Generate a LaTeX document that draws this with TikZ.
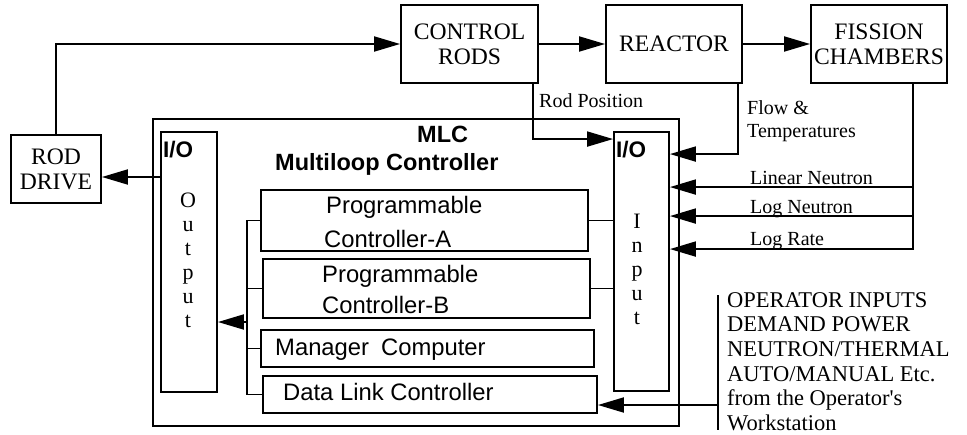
\documentclass[tikz,border=0pt]{standalone}
\usepackage{fontspec}
\setmainfont{Liberation Serif}
\setsansfont{Liberation Sans}
\usetikzlibrary{arrows.meta}

% type sizes (1 unit = 1pt)
\newcommand\fbig{\fontsize{23.6}{25}\selectfont}
\newcommand\fsmall{\fontsize{20}{23}\selectfont}
\newcommand\fop{\fontsize{22.5}{24.7}\selectfont}
\newcommand\fletter{\fontsize{22}{24}\selectfont}
\newcommand\ssans{\sffamily\fontsize{23.8}{26}\selectfont}
\newcommand\sbold{\sffamily\bfseries\fontsize{23.5}{26}\selectfont}
\newcommand\sio{\sffamily\bfseries\fontsize{22.5}{26}\selectfont}

\begin{document}
\begin{tikzpicture}[x=1pt,y=-1pt,
  ln/.style={line width=1.9pt},
  arr/.style={ln,-{Triangle[length=26pt,width=15pt]}},
  box/.style={draw,ln,rectangle,inner sep=0pt},
  sbox/.style={box,font=\fbig,align=center},
  lbl/.style={inner sep=0pt,anchor=base west}]
\useasboundingbox (0,0) rectangle (967,434);

% plant blocks
\node[sbox,minimum width=137pt,minimum height=78pt] (rods) at (469.5,44) {CONTROL\\RODS};
\node[sbox,minimum width=136pt,minimum height=78pt] (reactor) at (674,44) {REACTOR};
\node[sbox,minimum width=136pt,minimum height=78pt] (fission) at (879,44) {FISSION\\CHAMBERS};
\node[sbox,minimum width=90pt,minimum height=68pt] (roddrive) at (56,169) {ROD\\DRIVE};

% multiloop controller and its parts
\node[box,minimum width=526pt,minimum height=307pt] (mlc) at (416,272.5) {};
\node[box,minimum width=56pt,minimum height=260pt] (outbox) at (189,262) {};
\node[box,minimum width=55pt,minimum height=259pt] (inbox) at (641.5,261.5) {};
\node[box,minimum width=327pt,minimum height=61pt] (pca) at (424.5,220.5) {};
\node[box,minimum width=327pt,minimum height=59pt] (pcb) at (426.5,288.5) {};
\node[box,minimum width=333pt,minimum height=37pt] (mgr) at (427.5,348.5) {};
\node[box,minimum width=334pt,minimum height=37pt] (dlc) at (430,394.5) {};

% controller texts
\node[lbl,font=\sbold] (mlct) at (417,142) {MLC};
\node[lbl,font=\sbold] (mlcname) at (275,170) {Multiloop Controller};
\node[lbl,font=\sio] (outio) at (163,157) {I/O};
\node[lbl,font=\sio] (inio) at (616,157) {I/O};
\node[lbl,font=\ssans] (pcat) at (326,213) {Programmable};
\node[lbl,font=\ssans] (pcab) at (324,247) {Controller-A};
\node[lbl,font=\ssans] (pcbt) at (322,282) {Programmable};
\node[lbl,font=\ssans] (pcbb) at (322,313) {Controller-B};
\node[lbl,font=\ssans] (mgrt) at (275,355) {Manager\hspace{12pt}Computer};
\node[lbl,font=\ssans] (dlct) at (283,400) {Data Link Controller};

% vertical captions of the I/O columns
\foreach \ch [count=\i] in {O,u,t,p,u,t}
  \node[inner sep=0pt,anchor=base,font=\fletter] (outl\i) at (188,{207+24*(\i-1)}) {\ch};
\foreach \ch [count=\i] in {I,n,p,u,t}
  \node[inner sep=0pt,anchor=base,font=\fletter] (inl\i) at (637,{228+24*(\i-1)}) {\ch};

% signal labels
\node[lbl,font=\fsmall] (rodpos) at (539,107) {Rod Position};
\node[lbl,font=\fsmall,align=left,anchor=north west] (flow) at (747,100) {Flow \&\\Temperatures};
\node[lbl,font=\fsmall] (linn) at (750,184) {Linear Neutron};
\node[lbl,font=\fsmall] (logn) at (750,213) {Log Neutron};
\node[lbl,font=\fsmall] (logr) at (750,245) {Log Rate};
\node[font=\fop,align=left,anchor=north west,inner sep=0pt] (optext) at (727,292)
  {OPERATOR INPUTS\\DEMAND POWER\\NEUTRON/THERMAL\\AUTO/MANUAL Etc.\\from the Operator\textquotesingle s\\Workstation};

% plant chain
\draw[arr] (roddrive.north) |- (rods.west);
\draw[arr] (rods) -- (reactor);
\draw[arr] (reactor) -- (fission);

% output to rod drive
\coordinate (rdin) at ([yshift=-8pt]roddrive.east);
\draw[arr] (outbox.west |- rdin) -- (rdin);

% measured signals into the input column
\coordinate (rp) at ([xshift=-6pt]rods.south east);
\coordinate (rpin) at ([yshift=-8pt]inbox.north west);
\draw[arr] (rp) |- (rpin);
\coordinate (ft) at ([xshift=-5pt]reactor.south east);
\coordinate (ftin) at ([yshift=-23pt]inbox.north east);
\draw[arr] (ft) |- (ftin);
\coordinate (fc) at ([xshift=-35pt]fission.south east);
\coordinate (lin) at ([yshift=-56pt]inbox.north east);
\coordinate (lgn) at ([yshift=-85pt]inbox.north east);
\coordinate (lgr) at ([yshift=-118pt]inbox.north east);
\draw[arr] (fc) |- (lgr);
\draw[arr] (fc |- lin) -- (lin);
\draw[arr] (fc |- lgn) -- (lgn);

% input column to the controllers
\draw[ln] (pca.east) -- (pca.east -| inbox.west);
\draw[ln] (pcb.east) -- (pcb.east -| inbox.west);

% internal bus to the output column
\coordinate (bus) at (247,0);
\draw[ln] (pca.west) -| (bus |- dlc.west) -- (dlc.west);
\draw[ln] (bus |- pcb.west) -- (pcb.west);
\draw[ln] (bus |- mgr.west) -- (mgr.west);
\coordinate (busout) at (247,322);
\draw[arr] (busout) -- (busout -| outbox.east);

% operator workstation feed
\coordinate (optop) at (718,295);
\coordinate (opbot) at (718,430);
\draw[ln] (optop) -- (opbot);
\coordinate (opfeed) at (718,405);
\draw[arr] (opfeed) -- (opfeed -| dlc.east);
\end{tikzpicture}
\end{document}
